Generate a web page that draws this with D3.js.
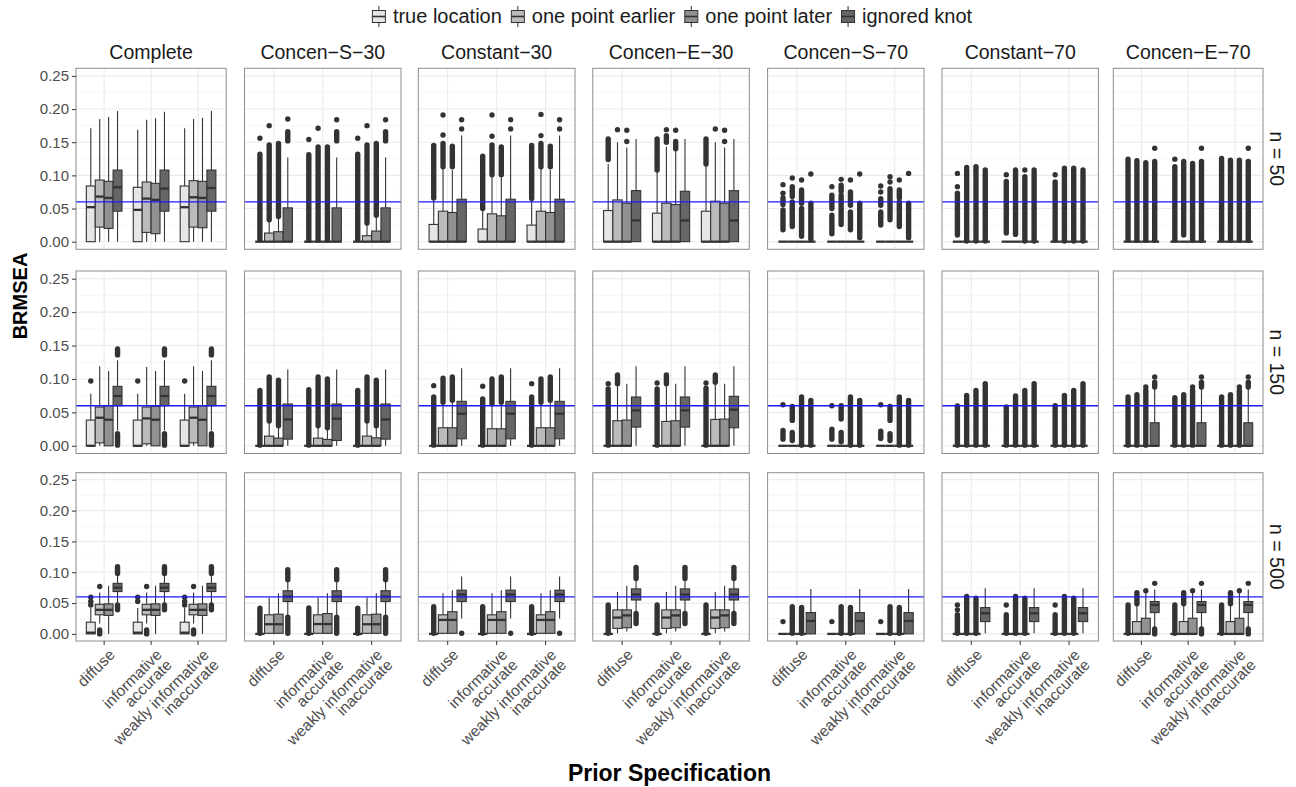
<!DOCTYPE html>
<html>
<head>
<meta charset="utf-8">
<script src="https://cdn.jsdelivr.net/npm/d3@7"></script>
<style>
  body { margin: 0; background: #fff; }
  text { font-family: "Liberation Sans", Arial, Helvetica, sans-serif; }
</style>
</head>
<body>
<div id="chart"></div>
<script>
// ---- data ----
const facets = ["Complete", "Concen\u2212S\u221230", "Constant\u221230", "Concen\u2212E\u221230", "Concen\u2212S\u221270", "Constant\u221270", "Concen\u2212E\u221270"];
const sizes = ["n = 50", "n = 150", "n = 500"];
const priors = ["diffuse", "informative\naccurate", "weakly informative\ninaccurate"];
const knots = ["true location", "one point earlier", "one point later", "ignored knot"];
const yTicks = [0, 0.05, 0.10, 0.15, 0.20, 0.25];
const refLine = 0.06;

// each box: [lower whisker, q1, median, q3, upper whisker, outliers]
// outliers: single values, or [from, to] for a dense run of points
// order: diffuse x4 knots, informative accurate x4, weakly informative inaccurate x4

// n = 50
const n50_complete = [
  [0, 0, 0.052, 0.084, 0.171, []], [0, 0.022, 0.068, 0.093, 0.185, []], [0, 0.020, 0.066, 0.091, 0.188, []], [0, 0.046, 0.082, 0.108, 0.197, []],
  [0, 0, 0.048, 0.082, 0.169, []], [0, 0.014, 0.065, 0.090, 0.184, []], [0, 0.012, 0.063, 0.088, 0.186, []], [0, 0.046, 0.080, 0.108, 0.196, []],
  [0, 0, 0.052, 0.084, 0.171, []], [0, 0.022, 0.067, 0.092, 0.185, []], [0, 0.021, 0.066, 0.091, 0.187, []], [0, 0.046, 0.081, 0.108, 0.197, []]
];
const n50_concenS30 = [
  [0, 0, 0, 0, 0, [[0.003, 0.132], 0.156]], [0, 0, 0, 0.013, 0.030, [[0.033, 0.146], 0.175]], [0, 0, 0, 0.015, 0.035, [[0.038, 0.148]]], [0, 0, 0, 0.051, 0.127, [[0.152, 0.166], 0.185]],
  [0, 0, 0, 0, 0, [[0.002, 0.131], 0.154]], [0, 0, 0, 0, 0, [[0.002, 0.143], 0.171]], [0, 0, 0, 0, 0, [[0.002, 0.143]]], [0, 0, 0, 0.051, 0.127, [[0.152, 0.166], 0.184]],
  [0, 0, 0, 0, 0, [[0.003, 0.132], 0.156]], [0, 0, 0, 0.009, 0.025, [[0.028, 0.146], 0.175]], [0, 0, 0, 0.016, 0.038, [[0.040, 0.148]]], [0, 0, 0, 0.051, 0.127, [[0.152, 0.166], 0.184]]
];
const n50_constant30 = [
  [0, 0, 0, 0.026, 0.063, [[0.066, 0.145]]], [0, 0, 0, 0.046, 0.110, [[0.113, 0.148], 0.161, 0.191]], [0, 0, 0, 0.044, 0.108, [[0.113, 0.144]]], [0, 0, 0, 0.064, 0.160, [0.170, 0.184]],
  [0, 0, 0, 0.019, 0.047, [[0.050, 0.129]]], [0, 0, 0, 0.042, 0.100, [[0.101, 0.146], 0.159, 0.191]], [0, 0, 0, 0.039, 0.097, [[0.101, 0.143]]], [0, 0, 0, 0.064, 0.160, [0.170, 0.184]],
  [0, 0, 0, 0.025, 0.062, [[0.065, 0.145]]], [0, 0, 0, 0.046, 0.110, [[0.113, 0.148], 0.160, 0.192]], [0, 0, 0, 0.044, 0.108, [[0.113, 0.144]]], [0, 0, 0, 0.064, 0.160, [0.170, 0.184]]
];
const n50_concenE30 = [
  [0, 0, 0, 0.047, 0.117, [[0.124, 0.155]]], [0, 0, 0, 0.063, 0.150, [0.169]], [0, 0, 0, 0.058, 0.142, [0.151, 0.168]], [0, 0, 0.032, 0.077, 0.155, []],
  [0, 0, 0, 0.043, 0.105, [[0.108, 0.155]]], [0, 0, 0, 0.058, 0.143, [[0.150, 0.160], 0.169]], [0, 0, 0, 0.056, 0.138, [[0.140, 0.151], 0.168]], [0, 0, 0.032, 0.076, 0.155, []],
  [0, 0, 0, 0.046, 0.114, [[0.117, 0.155]]], [0, 0, 0, 0.061, 0.150, [0.170]], [0, 0, 0, 0.058, 0.142, [0.151, 0.168]], [0, 0, 0.032, 0.077, 0.155, []]
];
const n50_concenS70 = [
  [0, 0, 0, 0, 0, [[0.018, 0.048], [0.056, 0.066], 0.073, 0.086]], [0, 0, 0, 0, 0, [[0.023, 0.060], [0.068, 0.083], 0.096]], [0, 0, 0, 0, 0, [[0.008, 0.050], [0.058, 0.078], 0.093]], [0, 0, 0, 0, 0, [[0.004, 0.058], 0.102]],
  [0, 0, 0, 0, 0, [[0.012, 0.040], [0.050, 0.070], 0.083]], [0, 0, 0, 0, 0, [[0.026, 0.070], [0.076, 0.085], 0.094]], [0, 0, 0, 0, 0, [[0.018, 0.045], [0.055, 0.075], 0.093]], [0, 0, 0, 0, 0, [[0.006, 0.058], 0.102]],
  [0, 0, 0, 0, 0, [[0.025, 0.045], [0.055, 0.065], 0.075, 0.084]], [0, 0, 0, 0, 0, [[0.033, 0.080], 0.090, 0.098]], [0, 0, 0, 0, 0, [[0.023, 0.060], [0.066, 0.078], 0.093]], [0, 0, 0, 0, 0, [[0.006, 0.058], 0.103]]
];
const n50_constant70 = [
  [0, 0, 0, 0, 0, [[0.010, 0.073], 0.083, 0.103]], [0, 0, 0, 0, 0, [[0.001, 0.108], 0.112]], [0, 0, 0, 0, 0, [[0.001, 0.110], 0.113]], [0, 0, 0, 0, 0, [[0.001, 0.104], 0.108]],
  [0, 0, 0, 0, 0, [[0.013, 0.091], 0.101]], [0, 0, 0, 0, 0, [[0.011, 0.108]]], [0, 0, 0, 0, 0, [[0.001, 0.098], 0.108]], [0, 0, 0, 0, 0, [[0.001, 0.104], 0.108]],
  [0, 0, 0, 0, 0, [[0.003, 0.090], 0.101]], [0, 0, 0, 0, 0, [[0.001, 0.108], 0.111]], [0, 0, 0, 0, 0, [[0.001, 0.108], 0.111]], [0, 0, 0, 0, 0, [[0.001, 0.104], 0.108]]
];
const n50_concenE70 = [
  [0, 0, 0, 0, 0, [[0.003, 0.121], 0.1245]], [0, 0, 0, 0, 0, [[0.002, 0.122]]], [0, 0, 0, 0, 0, [[0.002, 0.119]]], [0, 0, 0, 0, 0, [[0.002, 0.121], 0.141]],
  [0, 0, 0, 0, 0, [[0.003, 0.113], 0.1245]], [0, 0, 0, 0, 0, [[0.010, 0.121]]], [0, 0, 0, 0, 0, [[0.002, 0.118]]], [0, 0, 0, 0, 0, [[0.002, 0.121], 0.141]],
  [0, 0, 0, 0, 0, [[0.003, 0.121], 0.1255]], [0, 0, 0, 0, 0, [[0.002, 0.123]]], [0, 0, 0, 0, 0, [[0.002, 0.123]]], [0, 0, 0, 0, 0, [[0.002, 0.121], 0.141]]
];

// n = 150
const n150_complete = [
  [0, 0, 0, 0.0385, 0.078, [0.097]], [0, 0.0045, 0.042, 0.058, 0.119, []], [0, 0, 0.039, 0.060, 0.112, []], [0.023, 0.060, 0.0745, 0.089, 0.128, [[0.001, 0.018], [0.136, 0.145]]],
  [0, 0, 0, 0.0385, 0.078, [0.097]], [0, 0.003, 0.041, 0.058, 0.118, []], [0, 0, 0.039, 0.059, 0.112, []], [0.023, 0.060, 0.0745, 0.089, 0.128, [[0.001, 0.018], [0.136, 0.145]]],
  [0, 0, 0, 0.0385, 0.078, [0.097]], [0, 0.0045, 0.042, 0.058, 0.119, []], [0, 0, 0.039, 0.060, 0.112, []], [0.023, 0.060, 0.0745, 0.089, 0.128, [[0.001, 0.018], [0.136, 0.145]]]
];
const n150_concenS30 = [
  [0, 0, 0, 0, 0, [[0.001, 0.083]]], [0, 0, 0, 0.0145, 0.035, [[0.037, 0.103]]], [0, 0, 0, 0.0115, 0.028, [[0.030, 0.098]]], [0, 0.010, 0.0395, 0.0625, 0.114, []],
  [0, 0, 0, 0, 0, [[0.001, 0.084]]], [0, 0, 0, 0.0115, 0.028, [[0.030, 0.103]]], [0, 0, 0, 0.0095, 0.024, [[0.027, 0.100]]], [0, 0.008, 0.0405, 0.0625, 0.114, []],
  [0, 0, 0, 0, 0, [[0.001, 0.083]]], [0, 0, 0, 0.0145, 0.035, [[0.037, 0.103]]], [0, 0, 0, 0.012, 0.029, [[0.030, 0.098]]], [0, 0.010, 0.0395, 0.0625, 0.114, []]
];
const n150_constant30 = [
  [0, 0, 0, 0, 0, [[0.001, 0.073], 0.090]], [0, 0, 0, 0.027, 0.062, [[0.065, 0.101]]], [0, 0, 0, 0.027, 0.065, [[0.068, 0.103]]], [0, 0.0105, 0.048, 0.0665, 0.116, []],
  [0, 0, 0, 0, 0, [[0.001, 0.070], 0.089]], [0, 0, 0, 0.0255, 0.062, [[0.063, 0.100]]], [0, 0, 0, 0.0255, 0.062, [[0.065, 0.103]]], [0, 0.0105, 0.048, 0.0665, 0.116, []],
  [0, 0, 0, 0, 0, [[0.001, 0.073], 0.093]], [0, 0, 0, 0.027, 0.062, [[0.065, 0.100]]], [0, 0, 0, 0.027, 0.065, [[0.068, 0.103]]], [0, 0.0105, 0.048, 0.0665, 0.116, []]
];
const n150_concenE30 = [
  [0, 0, 0, 0, 0, [[0.001, 0.085], 0.093]], [0, 0, 0, 0.0375, 0.090, [[0.093, 0.106]]], [0, 0, 0, 0.0385, 0.093, []], [0, 0.028, 0.053, 0.073, 0.119, []],
  [0, 0, 0, 0, 0, [[0.001, 0.085], 0.094]], [0, 0, 0, 0.0365, 0.090, [[0.093, 0.106]]], [0, 0, 0, 0.0375, 0.093, []], [0, 0.028, 0.053, 0.073, 0.119, []],
  [0, 0, 0, 0, 0, [[0.001, 0.086], 0.094]], [0, 0, 0, 0.0395, 0.092, [[0.095, 0.106]]], [0, 0, 0, 0.040, 0.093, []], [0, 0.027, 0.054, 0.074, 0.119, []]
];
const n150_concenS70 = [
  [0, 0, 0, 0, 0, [[0.010, 0.023], 0.0615]], [0, 0, 0, 0, 0, [[0.008, 0.020], [0.038, 0.059]]], [0, 0, 0, 0, 0, [[0.001, 0.073]]], [0, 0, 0, 0, 0, [[0.001, 0.068]]],
  [0, 0, 0, 0, 0, [[0.010, 0.025], 0.060]], [0, 0, 0, 0, 0, [[0.006, 0.020], [0.040, 0.060]]], [0, 0, 0, 0, 0, [[0.001, 0.073]]], [0, 0, 0, 0, 0, [[0.001, 0.068]]],
  [0, 0, 0, 0, 0, [[0.011, 0.022], 0.0615]], [0, 0, 0, 0, 0, [[0.008, 0.018], [0.038, 0.059]]], [0, 0, 0, 0, 0, [[0.001, 0.073]]], [0, 0, 0, 0, 0, [[0.001, 0.068]]]
];
const n150_constant70 = [
  [0, 0, 0, 0, 0, [[0.001, 0.0595]]], [0, 0, 0, 0, 0, [[0.001, 0.0755]]], [0, 0, 0, 0, 0, [[0.001, 0.083]]], [0, 0, 0, 0, 0, [[0.001, 0.093]]],
  [0, 0, 0, 0, 0, [[0.001, 0.058]]], [0, 0, 0, 0, 0, [[0.001, 0.0745]]], [0, 0, 0, 0, 0, [[0.001, 0.083]]], [0, 0, 0, 0, 0, [[0.001, 0.093]]],
  [0, 0, 0, 0, 0, [[0.001, 0.060]]], [0, 0, 0, 0, 0, [[0.001, 0.0755]]], [0, 0, 0, 0, 0, [[0.001, 0.083]]], [0, 0, 0, 0, 0, [[0.001, 0.093]]]
];
const n150_concenE70 = [
  [0, 0, 0, 0, 0, [[0.001, 0.073]]], [0, 0, 0, 0, 0, [[0.001, 0.0765]]], [0, 0, 0, 0, 0, [[0.001, 0.083], 0.088]], [0, 0, 0, 0.0345, 0.085, [[0.088, 0.095], 0.103]],
  [0, 0, 0, 0, 0, [[0.001, 0.072]]], [0, 0, 0, 0, 0, [[0.001, 0.0765]]], [0, 0, 0, 0, 0, [[0.001, 0.083], 0.088]], [0, 0, 0, 0.0345, 0.085, [[0.088, 0.095], 0.103]],
  [0, 0, 0, 0, 0, [[0.001, 0.073]]], [0, 0, 0, 0, 0, [[0.001, 0.0765]]], [0, 0, 0, 0, 0, [[0.001, 0.083], 0.088]], [0, 0, 0, 0.0345, 0.085, [[0.088, 0.095], 0.103]]
];

// n = 500
const n500_complete = [
  [0, 0, 0.002, 0.019, 0.042, [0.047, 0.0525, 0.0595]], [0.017, 0.031, 0.039, 0.048, 0.067, [[0, 0.0065], 0.077]], [0, 0.030, 0.039, 0.0487, 0.078, []], [0.050, 0.0687, 0.075, 0.082, 0.098, [[0.098, 0.109], [0.039, 0.047]]],
  [0, 0, 0.002, 0.019, 0.042, [0.0525, 0.0595]], [0.017, 0.031, 0.039, 0.048, 0.067, [[0, 0.0065], 0.077]], [0, 0.030, 0.039, 0.0487, 0.078, []], [0.050, 0.0687, 0.075, 0.082, 0.098, [[0.098, 0.109], [0.039, 0.047]]],
  [0, 0, 0.002, 0.019, 0.042, [0.047, 0.0525, 0.0595]], [0.017, 0.031, 0.039, 0.048, 0.067, [[0, 0.0065], 0.077]], [0, 0.030, 0.039, 0.0487, 0.078, []], [0.050, 0.0687, 0.075, 0.082, 0.098, [[0.098, 0.109], [0.039, 0.047]]]
];
const n500_concenS30 = [
  [0, 0, 0, 0, 0, [[0.001, 0.0417]]], [0, 0.001, 0.0157, 0.031, 0.059, []], [0, 0.001, 0.0157, 0.032, 0.066, []], [0.030, 0.0525, 0.0606, 0.070, 0.085, [[0.088, 0.104], [0.001, 0.027]]],
  [0, 0, 0, 0, 0, [[0.001, 0.042]]], [0, 0.001, 0.016, 0.031, 0.059, []], [0, 0.001, 0.016, 0.033, 0.066, []], [0.030, 0.0525, 0.0606, 0.070, 0.085, [[0.088, 0.104], [0.001, 0.027]]],
  [0, 0, 0, 0, 0, [[0.001, 0.0417]]], [0, 0.001, 0.0157, 0.031, 0.059, []], [0, 0.001, 0.0157, 0.032, 0.066, []], [0.030, 0.0525, 0.0606, 0.070, 0.085, [[0.088, 0.104], [0.001, 0.027]]]
];
const n500_constant30 = [
  [0, 0, 0, 0, 0, [[0.001, 0.044]]], [0, 0.001, 0.0227, 0.031, 0.066, []], [0, 0.001, 0.0227, 0.036, 0.071, []], [0.025, 0.0525, 0.064, 0.071, 0.093, [0.001]],
  [0, 0, 0, 0, 0, [[0.001, 0.044]]], [0, 0.001, 0.0227, 0.031, 0.066, []], [0, 0.001, 0.0227, 0.036, 0.071, []], [0.025, 0.0525, 0.064, 0.071, 0.093, [0.001]],
  [0, 0, 0, 0, 0, [[0.001, 0.044]]], [0, 0.001, 0.0227, 0.031, 0.066, []], [0, 0.001, 0.0227, 0.036, 0.071, []], [0.025, 0.0525, 0.064, 0.071, 0.093, [0.001]]
];
const n500_concenE30 = [
  [0, 0, 0, 0, 0, [[0.001, 0.047]]], [0.001, 0.009, 0.0265, 0.039, 0.068, []], [0.004, 0.010, 0.030, 0.039, 0.078, []], [0.036, 0.055, 0.064, 0.073, 0.0877, [[0.090, 0.108], [0.017, 0.033]]],
  [0, 0, 0, 0, 0, [[0.001, 0.047]]], [0.001, 0.009, 0.0265, 0.039, 0.068, []], [0.004, 0.010, 0.030, 0.039, 0.078, []], [0.036, 0.055, 0.064, 0.073, 0.0877, [[0.090, 0.108], [0.017, 0.033]]],
  [0, 0, 0, 0, 0, [[0.001, 0.047]]], [0.001, 0.009, 0.0265, 0.039, 0.068, []], [0.004, 0.010, 0.030, 0.039, 0.078, []], [0.036, 0.055, 0.064, 0.073, 0.0877, [[0.090, 0.108], [0.017, 0.033]]]
];
const n500_concenS70 = [
  [0, 0, 0, 0, 0, [0.020]], [0, 0, 0, 0, 0, [[0.001, 0.044]]], [0, 0, 0, 0, 0, [[0.001, 0.043]]], [0, 0, 0.021, 0.0346, 0.073, []],
  [0, 0, 0, 0, 0, [0.020]], [0, 0, 0, 0, 0, [[0.001, 0.044]]], [0, 0, 0, 0, 0, [[0.001, 0.043]]], [0, 0, 0.021, 0.0346, 0.073, []],
  [0, 0, 0, 0, 0, [0.020]], [0, 0, 0, 0, 0, [[0.001, 0.044]]], [0, 0, 0, 0, 0, [[0.001, 0.043]]], [0, 0, 0.021, 0.0346, 0.073, []]
];
const n500_constant70 = [
  [0, 0, 0, 0, 0, [[0.001, 0.031], 0.039, 0.047]], [0, 0, 0, 0, 0, [[0.001, 0.0606]]], [0, 0, 0, 0, 0, [[0.001, 0.058]]], [0.001, 0.020, 0.0335, 0.0427, 0.074, []],
  [0, 0, 0, 0, 0, [[0.001, 0.031], 0.047]], [0, 0, 0, 0, 0, [[0.001, 0.0606]]], [0, 0, 0, 0, 0, [[0.001, 0.058]]], [0.001, 0.020, 0.0335, 0.0427, 0.074, []],
  [0, 0, 0, 0, 0, [[0.001, 0.031], 0.047]], [0, 0, 0, 0, 0, [[0.001, 0.0606]]], [0, 0, 0, 0, 0, [[0.001, 0.058]]], [0.001, 0.020, 0.0335, 0.0427, 0.074, []]
];
const n500_concenE70 = [
  [0, 0, 0, 0, 0, [[0.001, 0.047]]], [0, 0, 0, 0.020, 0.047, [[0.049, 0.067]]], [0, 0, 0, 0.0254, 0.067, [0.070]], [0.009, 0.0346, 0.047, 0.0525, 0.072, [0.082, [0, 0.008]]],
  [0, 0, 0, 0, 0, [[0.001, 0.047]]], [0, 0, 0, 0.020, 0.047, [[0.049, 0.067]]], [0, 0, 0, 0.0254, 0.067, [0.070]], [0.009, 0.0346, 0.047, 0.0525, 0.072, [0.082, [0, 0.008]]],
  [0, 0, 0, 0, 0, [[0.001, 0.047]]], [0, 0, 0, 0.020, 0.047, [[0.049, 0.067]]], [0, 0, 0, 0.0254, 0.067, [0.070]], [0.009, 0.0346, 0.047, 0.0525, 0.072, [0.082, [0, 0.008]]]
];

const panelData = [
  [n50_complete, n50_concenS30, n50_constant30, n50_concenE30, n50_concenS70, n50_constant70, n50_concenE70],
  [n150_complete, n150_concenS30, n150_constant30, n150_concenE30, n150_concenS70, n150_constant70, n150_concenE70],
  [n500_complete, n500_concenS30, n500_constant30, n500_concenE30, n500_concenS70, n500_constant70, n500_concenE70]
];

// ---- layout ----
const W = 1296, H = 787;
const colLeft = [76, 244.5, 418.3, 592.8, 767.6, 942, 1113.3];
const colRight = [226.2, 401, 575, 749.3, 924, 1098.4, 1263];
const rowTop = [68.3, 271, 472.7];
const rowBottom = [249.3, 453.5, 641];
const yDomain = [-0.0115, 0.2615];

const fill = d3.scaleOrdinal().domain(knots).range(["#E6E6E6", "#BBBBBB", "#919191", "#666666"]);
const ink = "#333333";
const ptR = 2.7;

const svg = d3.select("#chart").append("svg")
    .attr("width", W)
    .attr("height", H);

svg.append("rect").attr("width", W).attr("height", H).attr("fill", "#fff");

panelData.forEach((row, r) => {
    row.forEach((boxes, c) => {
        const x = d3.scalePoint().domain(priors).range([colLeft[c], colRight[c]]).padding(0.6);
        const dx = d3.scaleBand().domain(knots).range([-x.step() * 0.38, x.step() * 0.38]);
        const y = d3.scaleLinear().domain(yDomain).range([rowBottom[r], rowTop[r]]);
        const g = svg.append("g");

        // panel background + grid
        g.append("rect")
            .attr("x", colLeft[c]).attr("y", rowTop[r])
            .attr("width", colRight[c] - colLeft[c]).attr("height", rowBottom[r] - rowTop[r])
            .attr("fill", "#fff");

        const minor = d3.range(0.025, 0.25, 0.05);
        g.selectAll(".minor").data(minor).enter().append("line")
            .attr("x1", colLeft[c]).attr("x2", colRight[c])
            .attr("y1", d => y(d)).attr("y2", d => y(d))
            .attr("stroke", "#F2F2F2").attr("stroke-width", 0.6);
        g.selectAll(".major").data(yTicks).enter().append("line")
            .attr("x1", colLeft[c]).attr("x2", colRight[c])
            .attr("y1", d => y(d)).attr("y2", d => y(d))
            .attr("stroke", "#EBEBEB").attr("stroke-width", 1.1);
        g.selectAll(".vmajor").data(priors).enter().append("line")
            .attr("x1", d => x(d)).attr("x2", d => x(d))
            .attr("y1", rowTop[r]).attr("y2", rowBottom[r])
            .attr("stroke", "#EBEBEB").attr("stroke-width", 1.1);

        // boxplots
        boxes.forEach((b, i) => {
            const prior = priors[Math.floor(i / 4)];
            const knot = knots[i % 4];
            const cx = x(prior) + dx(knot) + dx.bandwidth() / 2;
            const bw = dx.bandwidth();
            const [lo, q1, med, q3, hi, outs] = b;
            const bg = g.append("g");

            outs.forEach(o => {
                if (Array.isArray(o)) {
                    bg.append("line")
                        .attr("x1", cx).attr("x2", cx)
                        .attr("y1", y(o[0])).attr("y2", y(o[1]))
                        .attr("stroke", ink).attr("stroke-width", ptR * 2)
                        .attr("stroke-linecap", "round");
                } else {
                    bg.append("circle")
                        .attr("cx", cx).attr("cy", y(o)).attr("r", ptR)
                        .attr("fill", ink);
                }
            });

            bg.append("line")
                .attr("x1", cx).attr("x2", cx).attr("y1", y(q3)).attr("y2", y(hi))
                .attr("stroke", ink).attr("stroke-width", 1.1);
            bg.append("line")
                .attr("x1", cx).attr("x2", cx).attr("y1", y(q1)).attr("y2", y(lo))
                .attr("stroke", ink).attr("stroke-width", 1.1);
            bg.append("rect")
                .attr("x", cx - bw / 2).attr("width", bw)
                .attr("y", y(q3)).attr("height", Math.max(0, y(q1) - y(q3)))
                .attr("fill", fill(knot))
                .attr("stroke", ink).attr("stroke-width", 1.1);
            bg.append("line")
                .attr("x1", cx - bw / 2).attr("x2", cx + bw / 2)
                .attr("y1", y(med)).attr("y2", y(med))
                .attr("stroke", ink).attr("stroke-width", 2.3);
        });

        // reference line
        g.append("line")
            .attr("x1", colLeft[c]).attr("x2", colRight[c])
            .attr("y1", y(refLine)).attr("y2", y(refLine))
            .attr("stroke", "#1a1aff").attr("stroke-width", 1.4);

        // border
        g.append("rect")
            .attr("x", colLeft[c]).attr("y", rowTop[r])
            .attr("width", colRight[c] - colLeft[c]).attr("height", rowBottom[r] - rowTop[r])
            .attr("fill", "none").attr("stroke", "#8C8C8C").attr("stroke-width", 1);

        // y axis on first column
        if (c === 0) {
            const ay = g.append("g").attr("transform", `translate(${colLeft[c]},0)`)
                .call(d3.axisLeft(y).tickValues(yTicks).tickFormat(d3.format(".2f")).tickSize(4).tickPadding(3));
            ay.select(".domain").remove();
            ay.selectAll(".tick line").attr("stroke", ink);
            ay.selectAll(".tick text").attr("fill", "#4D4D4D").style("font-size", "15px")
                .style("font-family", '"Liberation Sans", Arial, sans-serif');
        }

        // x axis on bottom row
        if (r === 2) {
            g.selectAll(".xtick").data(priors).enter().append("line")
                .attr("x1", d => x(d)).attr("x2", d => x(d))
                .attr("y1", rowBottom[r]).attr("y2", rowBottom[r] + 4)
                .attr("stroke", ink);
            const lab = g.selectAll(".xlab").data(priors).enter().append("text")
                .attr("transform", d => `translate(${x(d) + 3},${rowBottom[r] + 6}) rotate(-45)`)
                .attr("text-anchor", "end")
                .attr("fill", "#4D4D4D")
                .style("font-size", "15.5px");
            lab.each(function (d) {
                const t = d3.select(this);
                d.split("\n").forEach((line, k) => {
                    t.append("tspan").attr("x", 0).attr("dy", k === 0 ? "0.8em" : "0.92em").text(line);
                });
            });
        }

        // top strips
        if (r === 0) {
            g.append("text")
                .attr("x", (colLeft[c] + colRight[c]) / 2).attr("y", 59)
                .attr("text-anchor", "middle")
                .style("font-size", "19.5px")
                .attr("fill", "#1A1A1A")
                .text(facets[c]);
        }
        // right strips
        if (c === 6) {
            g.append("text")
                .attr("transform", `translate(${colRight[c] + 14},${(rowTop[r] + rowBottom[r]) / 2}) rotate(90)`)
                .attr("text-anchor", "middle")
                .attr("dominant-baseline", "central")
                .style("font-size", "19.5px")
                .attr("fill", "#1A1A1A")
                .text(sizes[r]);
        }
    });
});

// axis titles
svg.append("text")
    .attr("transform", "translate(27,296) rotate(-90)")
    .attr("text-anchor", "middle")
    .style("font-size", "20px").style("font-weight", "bold")
    .text("BRMSEA");
svg.append("text")
    .attr("x", (colLeft[0] + colRight[6]) / 2).attr("y", 781)
    .attr("text-anchor", "middle")
    .style("font-size", "23px").style("font-weight", "bold")
    .text("Prior Specification");

// legend
const legend = svg.append("g");
let lx = 0;
knots.forEach(k => {
    const item = legend.append("g").attr("transform", `translate(${lx},0)`);
    item.append("line").attr("x1", 7).attr("x2", 7).attr("y1", 6).attr("y2", 27).attr("stroke", ink).attr("stroke-width", 1);
    item.append("rect").attr("x", 0.5).attr("y", 10.5).attr("width", 13).attr("height", 12)
        .attr("fill", fill(k)).attr("stroke", ink).attr("stroke-width", 1);
    item.append("line").attr("x1", 0.5).attr("x2", 13.5).attr("y1", 16.5).attr("y2", 16.5).attr("stroke", ink).attr("stroke-width", 1.6);
    const t = item.append("text").attr("x", 21).attr("y", 23).style("font-size", "20px").attr("fill", "#1A1A1A").text(k);
    lx += 21 + t.node().getComputedTextLength() + 9;
});
legend.attr("transform", `translate(${672 - (lx - 9) / 2},0)`);
</script>
</body>
</html>
